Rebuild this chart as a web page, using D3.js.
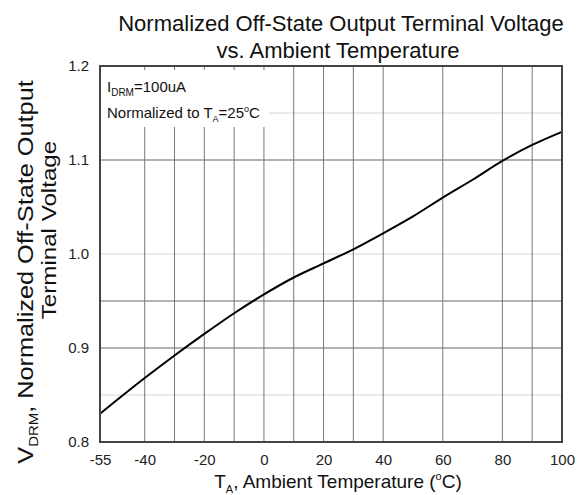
<!DOCTYPE html>
<html><head><meta charset="utf-8">
<script src="https://cdn.jsdelivr.net/npm/d3@7"></script>
<style>body{margin:0;background:#fff}svg{display:block}text{font-family:"Liberation Sans",Arial,sans-serif}</style>
</head><body><svg id="c" width="579" height="495"></svg>
<script>
const temps = [-55,-40,-30,-20,-10,0,10,20,30,40,50,60,70,80,90,100];
const vdrm = [0.830,0.868,0.892,0.915,0.937,0.957,0.975,0.990,1.005,1.022,1.040,1.060,1.079,1.099,1.116,1.130];
const xTicks = [-55,-40,-20,0,20,40,60,80,100];
const yTicks = [0.8,0.9,1.0,1.1,1.2];
const xGrid = [-40,-30,-20,-10,0,10,20,30,40,60,80,90];
const yGridDark = [1.1,0.95,0.9];
const yGridLight = [1.15,1.0,0.85];

const svg = d3.select("#c");
const L=100,R=562,T=66,B=442;
const x = d3.scaleLinear().domain([-55,100]).range([L,R]);
const y = d3.scaleLinear().domain([0.8,1.2]).range([B,T]);

svg.append("g").selectAll("line").data(yGridLight).join("line")
  .attr("x1",L).attr("x2",R).attr("y1",d=>y(d)).attr("y2",d=>y(d))
  .attr("stroke","#d4d4d4").attr("stroke-width",1);
svg.append("g").selectAll("line").data(yGridDark).join("line")
  .attr("x1",L).attr("x2",R).attr("y1",d=>y(d)).attr("y2",d=>y(d))
  .attr("stroke","#666").attr("stroke-width",1);
svg.append("g").selectAll("line").data(xGrid).join("line")
  .attr("x1",d=>x(d)).attr("x2",d=>x(d)).attr("y1",T).attr("y2",B)
  .attr("stroke","#777").attr("stroke-width",1);

// annotation box (leaves short tick stubs at the top)
svg.append("rect").attr("x",L+1).attr("y",T+4).attr("width",168).attr("height",57).attr("fill","#fff");

svg.append("path").datum(temps.map((t,i)=>[t,vdrm[i]]))
  .attr("d",d3.line().x(d=>x(d[0])).y(d=>y(d[1])).curve(d3.curveMonotoneX))
  .attr("fill","none").attr("stroke","#000").attr("stroke-width",2);

svg.append("rect").attr("x",L).attr("y",T).attr("width",R-L).attr("height",B-T)
  .attr("fill","none").attr("stroke","#444").attr("stroke-width",2);

const xa = d3.axisBottom(x).tickValues(xTicks).tickSize(0).tickPadding(12).tickFormat(d=>d);
const gx = svg.append("g").attr("transform",`translate(0,${B})`).call(xa);
gx.select(".domain").remove();
gx.selectAll("text").attr("font-size",15).attr("fill","#222").style("font-family","Liberation Sans, Arial");
const ya = d3.axisLeft(y).tickValues(yTicks).tickSize(0).tickPadding(11).tickFormat(d3.format(".1f"));
const gy = svg.append("g").attr("transform",`translate(${L},0)`).call(ya);
gy.select(".domain").remove();
gy.selectAll("text").attr("font-size",15).attr("fill","#222").style("font-family","Liberation Sans, Arial");

const tt = svg.append("text").attr("text-anchor","middle").attr("font-size",22).attr("fill","#111");
tt.append("tspan").attr("x",341).attr("y",31).text("Normalized Off-State Output Terminal Voltage");
tt.append("tspan").attr("x",338).attr("y",58).text("vs. Ambient Temperature");

const a1 = svg.append("text").attr("x",107).attr("y",92).attr("font-size",15).attr("fill","#111");
a1.append("tspan").text("I");
a1.append("tspan").attr("font-size",10).attr("dy",4).text("DRM");
a1.append("tspan").attr("dy",-4).text("=100uA");
const a2 = svg.append("text").attr("x",107).attr("y",118).attr("font-size",15).attr("fill","#111");
a2.append("tspan").text("Normalized to T");
a2.append("tspan").attr("font-size",9).attr("dy",4).text("A");
a2.append("tspan").attr("dy",-4).text("=25");
a2.append("tspan").attr("font-size",9).attr("dy",-6).text("o");
a2.append("tspan").attr("dy",6).text("C");

const xt = svg.append("text").attr("x",338).attr("y",488).attr("text-anchor","middle").attr("font-size",19).attr("fill","#111");
xt.append("tspan").text("T");
xt.append("tspan").attr("font-size",11).attr("dy",5).text("A");
xt.append("tspan").attr("dy",-5).text(", Ambient Temperature (");
xt.append("tspan").attr("font-size",11).attr("dy",-8).text("o");
xt.append("tspan").attr("dy",8).text("C)");

const yt1 = svg.append("text").attr("transform","translate(33,272) rotate(-90) scale(1.15,1)").attr("text-anchor","middle").attr("font-size",22).attr("fill","#111");
yt1.append("tspan").text("V");
yt1.append("tspan").attr("font-size",13).attr("dy",5).text("DRM");
yt1.append("tspan").attr("dy",-5).text(", Normalized Off-State Output");
svg.append("text").attr("transform","translate(56,230) rotate(-90) scale(1.15,1)").attr("text-anchor","middle").attr("font-size",21).attr("fill","#111").text("Terminal Voltage");
</script></body></html>
